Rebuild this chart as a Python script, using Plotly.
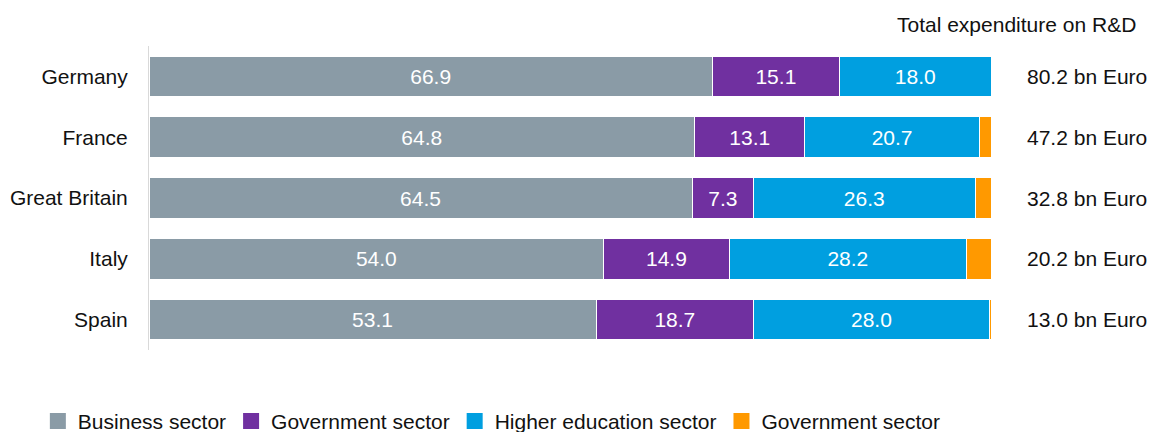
import plotly.graph_objects as go

countries = ["Germany", "France", "Great Britain", "Italy", "Spain"]
business = [66.9, 64.8, 64.5, 54.0, 53.1]
government = [15.1, 13.1, 7.3, 14.9, 18.7]
higher_edu = [18.0, 20.7, 26.3, 28.2, 28.0]
other = [0.0, 1.4, 1.9, 2.9, 0.2]
totals = ["80.2 bn Euro", "47.2 bn Euro", "32.8 bn Euro", "20.2 bn Euro", "13.0 bn Euro"]

series = [
    ("Business sector", business, "#8A9BA6", True),
    ("Government sector", government, "#7030A0", True),
    ("Higher education sector", higher_edu, "#009FE0", True),
    ("Government sector", other, "#FF9900", False),
]

FONT = "Liberation Sans, Arial, sans-serif"
FS = 21
INK = "#111111"

fig = go.Figure()
for i, (name, vals, color, labelled) in enumerate(series):
    fig.add_trace(go.Bar(
        y=countries,
        x=vals,
        name=name,
        legendgroup=f"s{i}",
        showlegend=False,
        orientation="h",
        marker=dict(color=color, line=dict(color="white", width=1)),
        text=[f"{v:.1f}" for v in vals] if labelled else None,
        textposition="inside" if labelled else "none",
        insidetextanchor="middle",
        textangle=0,
        textfont=dict(color="white", size=FS, family=FONT),
        constraintext="none",
        hoverinfo="x+y+name",
    ))

# Larger square swatches for the legend
for i, (name, vals, color, labelled) in enumerate(series):
    fig.add_trace(go.Scatter(
        x=[None], y=[None], mode="markers", name=name,
        legendgroup=f"s{i}",
        marker=dict(symbol="square", size=16, color=color),
        hoverinfo="skip",
    ))

# Total expenditure column on the right
for c, t in zip(countries, totals):
    fig.add_annotation(
        x=1.114, xref="paper", y=c, yref="y",
        text=t, showarrow=False, xanchor="center",
        font=dict(size=FS, color=INK, family=FONT),
    )
fig.add_annotation(
    x=1.1746, xref="paper", y=1.072, yref="paper",
    text="Total expenditure on R&D", showarrow=False,
    xanchor="right", yanchor="middle",
    font=dict(size=FS, color=INK, family=FONT),
)

fig.update_layout(
    barmode="stack",
    bargap=0.33,
    width=1152, height=432,
    margin=dict(l=149, r=161, t=46, b=82, autoexpand=False),
    plot_bgcolor="white",
    paper_bgcolor="white",
    font=dict(family=FONT, size=FS, color=INK),
    showlegend=True,
    legend=dict(
        orientation="h",
        x=-0.132, xanchor="left",
        y=-0.167, yanchor="top",
        font=dict(size=FS, color=INK, family=FONT),
        traceorder="normal",
        itemwidth=30,
    ),
    xaxis=dict(
        range=[0, 100], showgrid=False, zeroline=False,
        showticklabels=False, showline=False, fixedrange=True,
    ),
    yaxis=dict(
        autorange="reversed", showgrid=False, zeroline=False,
        showline=True, linecolor="#d9d9d9", linewidth=1,
        ticks="", ticklabelstandoff=16,
        tickfont=dict(size=FS, color=INK, family=FONT),
    ),
)

fig.write_html("out.html")
